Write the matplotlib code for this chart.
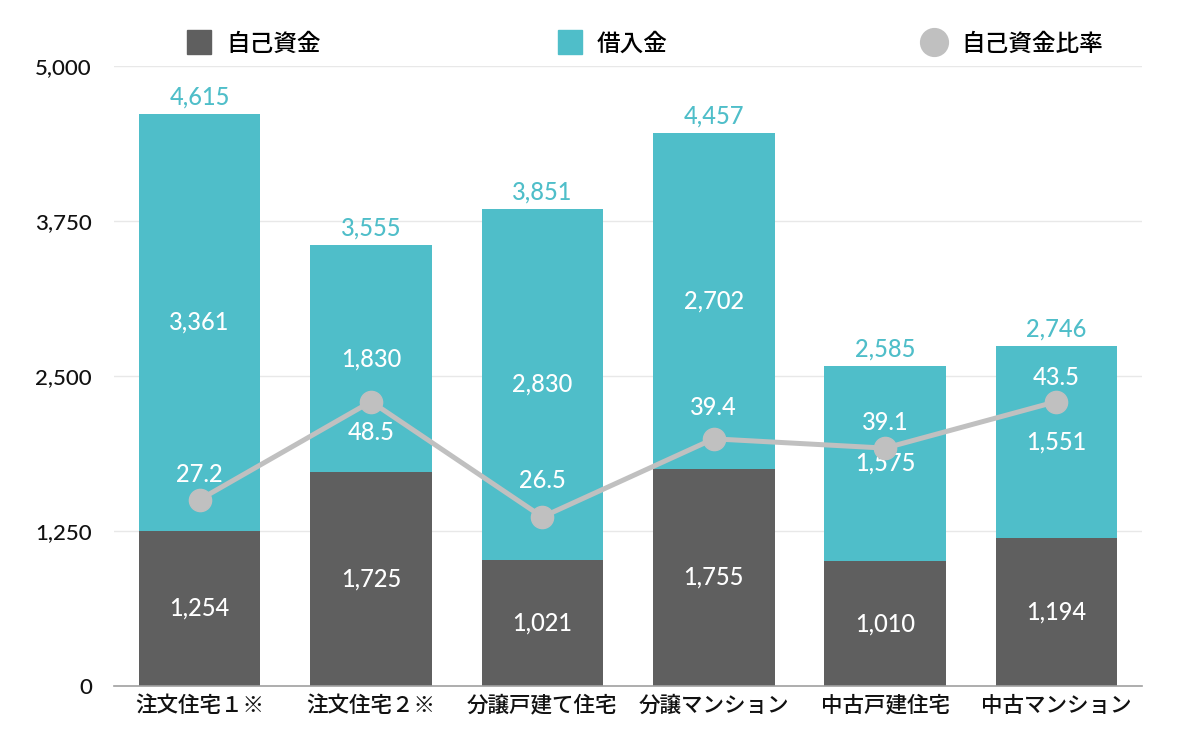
import matplotlib
matplotlib.use("Agg")
import matplotlib.pyplot as plt
from matplotlib.lines import Line2D
from matplotlib.ticker import FuncFormatter, FixedLocator

plt.rcParams['font.family'] = ['Noto Sans CJK JP', 'DejaVu Sans']

categories = ["注文住宅１※", "注文住宅２※", "分譲戸建て住宅", "分譲マンション", "中古戸建住宅", "中古マンション"]
own_funds = [1254, 1725, 1021, 1755, 1010, 1194]
loans = [3361, 1830, 2830, 2702, 1575, 1551]
totals = [4615, 3555, 3851, 4457, 2585, 2746]
ratio = [27.2, 48.5, 26.5, 39.4, 39.1, 43.5]
# marker heights as drawn in the reference (secondary axis, 0-100)
ratio_drawn = [30.1, 45.9, 27.3, 39.9, 38.4, 45.9]
y_ticks = [0, 1250, 2500, 3750, 5000]
legend_labels = ["自己資金", "借入金", "自己資金比率"]

DARK = "#5f5f5f"
TEAL = "#4fbec9"
LINE = "#c0c0c0"
NUMFONT = ['Lato', 'DejaVu Sans']
NUMSIZE = 17

fig = plt.figure(figsize=(12, 7.36), dpi=100)
ax = fig.add_axes([0.095, 0.0675, 0.8567, 0.8428])
x = list(range(len(categories)))
w = 0.71
ax.bar(x, own_funds, width=w, color=DARK, zorder=2)
ax.bar(x, loans, width=w, bottom=own_funds, color=TEAL, zorder=2)

ax.set_xlim(-0.5, len(categories) - 0.5)
ax.set_ylim(0, 5000)
ax.yaxis.set_major_locator(FixedLocator(y_ticks))
ax.yaxis.set_major_formatter(FuncFormatter(lambda v, p: f"{int(v):,}"))
ax.grid(axis='y', color='#e8e8e8', lw=1, zorder=0)
for s in ['top', 'right', 'left']:
    ax.spines[s].set_visible(False)
ax.spines['bottom'].set_color('#a0a0a0')
ax.spines['bottom'].set_linewidth(1.2)
ax.spines['bottom'].set_zorder(3)
ax.tick_params(axis='y', length=0, pad=16, labelsize=16, labelcolor='#111111')
ax.tick_params(axis='x', length=0, pad=6, labelsize=15.5, labelcolor='#111111')
ax.set_xticks(x)
ax.set_xticklabels(categories, fontweight='medium')
for lab in ax.get_yticklabels():
    lab.set_family(NUMFONT)
    lab.set_fontweight('medium')

for i in x:
    ax.text(i, own_funds[i] / 2, f"{own_funds[i]:,}", ha='center', va='center',
            color='white', fontsize=NUMSIZE, family=NUMFONT, fontweight='medium', zorder=5)
    ax.text(i, own_funds[i] + loans[i] / 2, f"{loans[i]:,}", ha='center', va='center',
            color='white', fontsize=NUMSIZE, family=NUMFONT, fontweight='medium', zorder=5)
    ax.annotate(f"{totals[i]:,}", (i, totals[i]), xytext=(0, 17), textcoords='offset pixels',
                ha='center', va='center', color=TEAL, fontsize=NUMSIZE, family=NUMFONT,
                fontweight='medium')

ax2 = ax.twinx()
ax2.set_ylim(0, 100)
ax2.axis('off')
ax2.plot(x, ratio_drawn, color=LINE, lw=3.6, marker='o', markersize=16, zorder=4)
label_offsets = [25, -31, 36, 31, 26, 24]
for i in x:
    ax2.annotate(f"{ratio[i]}", (i, ratio_drawn[i]), xytext=(0, label_offsets[i]),
                 textcoords='offset pixels', ha='center', va='center', color='white',
                 fontsize=NUMSIZE, family=NUMFONT, fontweight='medium', zorder=6)

handles = [
    Line2D([], [], marker='s', color=DARK, ls='none', markersize=17),
    Line2D([], [], marker='s', color=TEAL, ls='none', markersize=17),
    Line2D([], [], marker='o', color=LINE, ls='none', markersize=20),
]
xs = [0.146, 0.455, 0.759]
for h, lab, xp in zip(handles, legend_labels, xs):
    fig.legend([h], [lab], loc='center left', bbox_to_anchor=(xp, 0.94), frameon=False,
               fontsize=17, handletextpad=0.55, handlelength=1.2, borderaxespad=0,
               prop={'size': 17, 'weight': 'medium'})

fig.savefig("out.png", dpi=100)
